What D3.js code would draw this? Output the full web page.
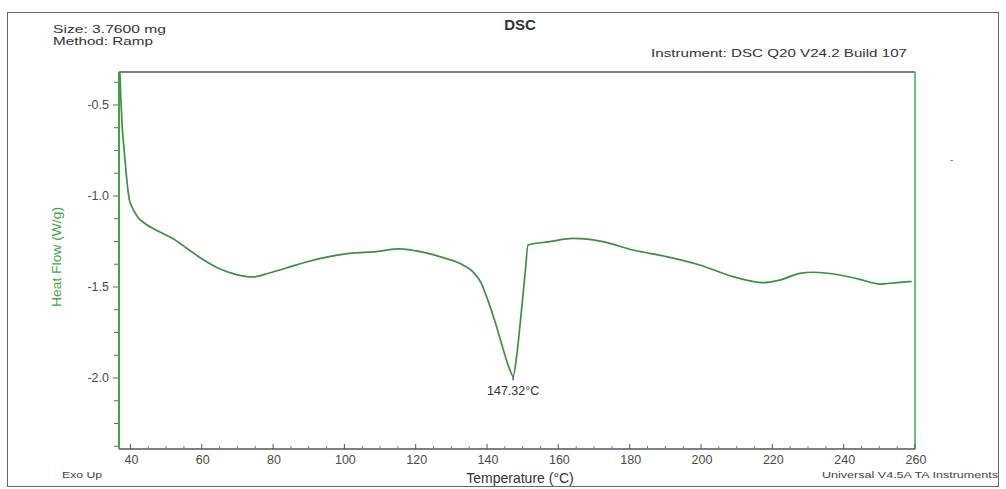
<!DOCTYPE html>
<html>
<head>
<meta charset="utf-8">
<script src="https://cdn.jsdelivr.net/npm/d3@7"></script>
<style>
  html, body { margin: 0; padding: 0; background: #fff; }
  svg { display: block; font-family: "Liberation Sans", Arial, sans-serif; }
</style>
</head>
<body>
<svg id="chart" width="1006" height="489"></svg>
<script>
// DSC thermogram: heat flow (W/g) against temperature (°C)
const temperature = [37.0, 37.3, 37.7, 38.3, 39.2, 39.7, 40.2, 42.0, 44.0, 48.0, 52.0, 56.0, 60.0, 65.0,
  69.7, 74.2, 79.0, 83.7, 88.3, 93.0, 101.4, 108.9, 115.5, 120.2, 126.7, 132.3, 136.0, 138.4,
  140.2, 142.4, 144.5, 146.3, 147.32, 148.3, 149.5, 150.7, 151.5, 157.6, 164.1, 172.5, 180.9,
  190.3, 199.7, 209.0, 217.4, 222.1, 227.7, 231.4, 238.9, 244.5, 250.2, 254.9, 259.1];
const heatFlow = [-0.30, -0.46, -0.62, -0.76, -0.95, -1.02, -1.05, -1.115, -1.15, -1.195, -1.235, -1.29, -1.345, -1.400,
  -1.432, -1.445, -1.423, -1.396, -1.368, -1.344, -1.315, -1.306, -1.291, -1.302, -1.333, -1.37, -1.416, -1.48,
  -1.571, -1.70, -1.84, -1.95, -1.99, -1.88, -1.66, -1.42, -1.269, -1.251, -1.233, -1.251, -1.297,
  -1.333, -1.379, -1.443, -1.476, -1.462, -1.425, -1.419, -1.434, -1.458, -1.484, -1.476, -1.47];

const xTicks = [40, 60, 80, 100, 120, 140, 160, 180, 200, 220, 240, 260];
const yTicks = [-0.5, -1.0, -1.5, -2.0];
const peakTemp = 147.32;
const peakFlow = -1.99;

const svg = d3.select("#chart");
const green = "#3fa845";
const curveColor = "#3d8f45";
const grey = "#4a4a4a";

const plotLeft = 119, plotRight = 915, plotTop = 72, plotBottom = 449;
const x = d3.scaleLinear().domain([36.8, 260]).range([plotLeft, plotRight]);
const y = d3.scaleLinear().domain([-2.39, -0.319]).range([plotBottom, plotTop]);

// outer frame
svg.append("rect").attr("x", 7.5).attr("y", 12.5).attr("width", 991).attr("height", 474)
  .attr("fill", "none").attr("stroke", "#666").attr("stroke-width", 1);

// header texts
svg.append("text").attr("x", 520).attr("y", 30).attr("text-anchor", "middle")
  .attr("font-size", 15).attr("font-weight", 600).attr("fill", "#333").text("DSC");
svg.append("text").attr("x", 53).attr("y", 33).attr("font-size", 10.5).attr("fill", "#333")
  .attr("textLength", 113).attr("lengthAdjust", "spacingAndGlyphs")
  .text("Size:  3.7600 mg");
svg.append("text").attr("x", 53).attr("y", 45).attr("font-size", 10.5).attr("fill", "#333")
  .attr("textLength", 100).attr("lengthAdjust", "spacingAndGlyphs")
  .text("Method: Ramp");
svg.append("text").attr("x", 651).attr("y", 57).attr("font-size", 11.5).attr("fill", "#333")
  .attr("textLength", 256).attr("lengthAdjust", "spacingAndGlyphs")
  .text("Instrument: DSC Q20 V24.2 Build 107");
svg.append("text").attr("x", 950).attr("y", 163).attr("font-size", 10).attr("fill", "#777").text("-");

// plot frame: top grey, right green
svg.append("line").attr("x1", plotLeft).attr("x2", plotRight).attr("y1", plotTop).attr("y2", plotTop)
  .attr("stroke", "#555").attr("stroke-width", 1.5);
svg.append("line").attr("x1", plotRight).attr("x2", plotRight).attr("y1", plotTop).attr("y2", plotBottom)
  .attr("stroke", green).attr("stroke-width", 1.5);

// bottom axis with inward ticks
const xMinor = d3.range(40, 261, 5).filter(t => t % 20 !== 0);
const gx = svg.append("g");
gx.append("line").attr("x1", plotLeft).attr("x2", plotRight).attr("y1", plotBottom).attr("y2", plotBottom)
  .attr("stroke", "#555").attr("stroke-width", 1.5);
gx.selectAll("line.maj").data(xTicks).join("line").attr("class", "maj")
  .attr("x1", d => x(d)).attr("x2", d => x(d)).attr("y1", plotBottom).attr("y2", plotBottom - 5)
  .attr("stroke", "#555");
gx.selectAll("line.min").data(xMinor).join("line").attr("class", "min")
  .attr("x1", d => x(d)).attr("x2", d => x(d)).attr("y1", plotBottom).attr("y2", plotBottom - 3)
  .attr("stroke", "#777");
gx.selectAll("text").data(xTicks).join("text")
  .attr("x", d => x(d) + 1).attr("y", plotBottom + 15).attr("text-anchor", "middle")
  .attr("font-size", 12.5).attr("fill", grey).text(d => d);

// left axis with outward ticks
const yMinor = d3.range(-2.375, -0.374, 0.125).filter(v => Math.abs(v * 2 - Math.round(v * 2)) > 1e-6);
const gy = svg.append("g");
gy.selectAll("line.maj").data(yTicks).join("line").attr("class", "maj")
  .attr("x1", plotLeft - 6).attr("x2", plotLeft).attr("y1", d => y(d)).attr("y2", d => y(d))
  .attr("stroke", "#666");
gy.selectAll("line.min").data(yMinor).join("line").attr("class", "min")
  .attr("x1", plotLeft - 5).attr("x2", plotLeft).attr("y1", d => y(d)).attr("y2", d => y(d))
  .attr("stroke", "#666");
gy.append("line").attr("x1", plotLeft).attr("x2", plotLeft).attr("y1", plotTop).attr("y2", plotBottom)
  .attr("stroke", green).attr("stroke-width", 2);
gy.selectAll("text").data(yTicks).join("text")
  .attr("x", plotLeft - 10).attr("y", d => y(d) + 4).attr("text-anchor", "end")
  .attr("font-size", 12.5).attr("fill", grey).text(d => d.toFixed(1));

// axis titles
svg.append("text").attr("transform", "translate(61,257) rotate(-90)").attr("text-anchor", "middle")
  .attr("font-size", 12.5).attr("fill", green)
  .attr("textLength", 100).attr("lengthAdjust", "spacingAndGlyphs").text("Heat Flow (W/g)");
svg.append("text").attr("x", 520).attr("y", 483).attr("text-anchor", "middle")
  .attr("font-size", 14).attr("fill", "#333").text("Temperature (°C)");
svg.append("text").attr("x", 62).attr("y", 478).attr("font-size", 9).attr("fill", "#444")
  .attr("textLength", 40).attr("lengthAdjust", "spacingAndGlyphs").text("Exo Up");
svg.append("text").attr("x", 822).attr("y", 478).attr("font-size", 9).attr("fill", "#444")
  .attr("textLength", 176).attr("lengthAdjust", "spacingAndGlyphs")
  .text("Universal V4.5A TA Instruments");

// curve
svg.append("clipPath").attr("id", "plotClip").append("rect")
  .attr("x", plotLeft).attr("y", plotTop).attr("width", plotRight - plotLeft).attr("height", plotBottom - plotTop);
const pts = temperature.map((t, i) => [t, heatFlow[i]]);
const line = d3.line().x(d => x(d[0])).y(d => y(d[1])).curve(d3.curveMonotoneX);
svg.append("path").datum(pts).attr("clip-path", "url(#plotClip)")
  .attr("d", line).attr("fill", "none").attr("stroke", curveColor).attr("stroke-width", 1.7);

// peak annotation
svg.append("line").attr("x1", x(peakTemp)).attr("x2", x(peakTemp))
  .attr("y1", y(peakFlow)).attr("y2", y(peakFlow) + 4).attr("stroke", "#333").attr("stroke-width", 1.2);
svg.append("text").attr("x", x(peakTemp)).attr("y", y(peakFlow) + 19).attr("text-anchor", "middle")
  .attr("font-size", 12.5).attr("fill", "#333").text(peakTemp.toFixed(2) + "°C");
</script>
</body>
</html>
